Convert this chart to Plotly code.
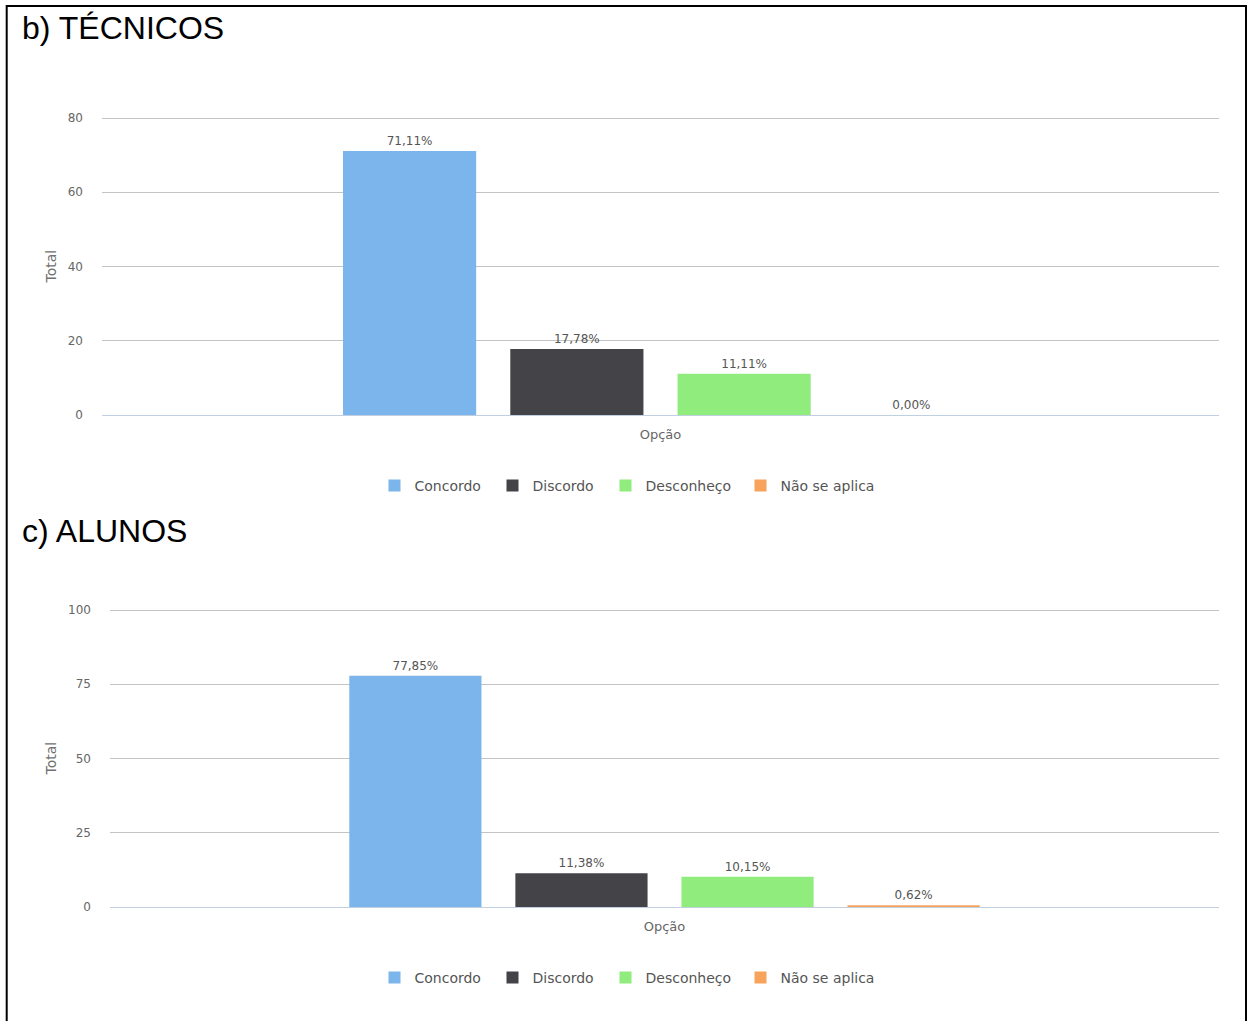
import plotly.graph_objects as go

# Survey answers, percentage of respondents per option
options = ["Concordo", "Discordo", "Desconheço", "Não se aplica"]
colors = ["#7cb5ec", "#434348", "#90ed7d", "#f7a35c"]
category = ["Opção"]

tecnicos_pct = [71.11, 17.78, 11.11, 0.00]
alunos_pct = [77.85, 11.38, 10.15, 0.62]

panel_titles = ["b) TÉCNICOS", "c) ALUNOS"]
tecnicos_ticks = [0, 20, 40, 60, 80]
alunos_ticks = [0, 25, 50, 75, 100]

W, H = 1247, 1021


def px_x(px):
    return px / W


def px_y(py):
    return 1 - py / H


def fmt(v):
    return f"{v:.2f}".replace(".", ",") + "%"


# Layout geometry of each panel (pixels)
panels = [
    dict(values=tecnicos_pct, xa="x", ya="y", left=102, zero=415, top=118,
         ymax=80, ticks=tecnicos_ticks, legend_y=486),
    dict(values=alunos_pct, xa="x2", ya="y2", left=110, zero=907, top=610,
         ymax=100, ticks=alunos_ticks, legend_y=978),
]
plot_right = 1219
# left edge of each legend entry's label text
legend_text_x = [414, 532, 645, 780]

fig = go.Figure()
legend_layouts = {}
legend_idx = 0
for p in panels:
    for name, color, v, tx in zip(options, colors, p["values"], legend_text_x):
        legend_idx += 1
        lid = "legend" if legend_idx == 1 else f"legend{legend_idx}"
        fig.add_trace(go.Bar(
            x=category, y=[v], name=name,
            marker=dict(color=color, line=dict(width=0)),
            text=[fmt(v)], textposition="outside",
            textfont=dict(family="DejaVu Sans", size=12, color="#555555"),
            cliponaxis=False, constraintext="none",
            xaxis=p["xa"], yaxis=p["ya"], legend=lid,
            hoverinfo="skip",
        ))
        legend_layouts[lid] = dict(
            x=px_x(tx - 39.5), y=px_y(p["legend_y"]),
            xanchor="left", yanchor="middle",
            font=dict(family="DejaVu Sans", size=14, color="#555555"),
            bgcolor="rgba(0,0,0,0)", borderwidth=0,
            itemclick=False, itemdoubleclick=False,
        )

axis_font = dict(family="DejaVu Sans", size=12, color="#666666")

common_y = dict(
    showline=False, zeroline=False, showgrid=True,
    gridcolor="#c4c4c4", gridwidth=1,
    tickfont=axis_font, ticks="", ticklabelstandoff=18,
    fixedrange=True,
)
common_x = dict(
    type="category", showline=True, linecolor="#c0d0e0", linewidth=1,
    showgrid=False, zeroline=False, ticks="",
    tickfont=dict(family="DejaVu Sans", size=13, color="#666666"),
    ticklabelstandoff=7, fixedrange=True,
)

axes = {}
for i, p in enumerate(panels):
    suffix = "" if i == 0 else str(i + 1)
    # a little headroom so the top gridline is drawn inside the plot area
    ymax = p["ymax"] * 1.004
    top_px = p["zero"] - (p["zero"] - p["top"]) * ymax / p["ymax"]
    axes["xaxis" + suffix] = dict(domain=[px_x(p["left"]), px_x(plot_right)],
                                  anchor="y" + suffix, **common_x)
    axes["yaxis" + suffix] = dict(domain=[px_y(p["zero"]), px_y(top_px)],
                                  anchor="x" + suffix, range=[0, ymax],
                                  tickvals=p["ticks"], **common_y)

fig.update_layout(
    width=W, height=H,
    margin=dict(l=0, r=0, t=0, b=0, autoexpand=False),
    paper_bgcolor="white", plot_bgcolor="white",
    barmode="group", bargap=0.401, bargroupgap=0.204,
    showlegend=True,
    **axes, **legend_layouts,
)

# Panel headings and y-axis titles
for title, ty in zip(panel_titles, [28, 531]):
    fig.add_annotation(
        text=title, xref="paper", yref="paper",
        x=px_x(20), y=px_y(ty), xanchor="left", yanchor="middle",
        showarrow=False,
        font=dict(family="Liberation Sans", size=32, color="#000000"),
    )

for p in panels:
    fig.add_annotation(
        text="Total", xref="paper", yref="paper",
        x=px_x(50), y=px_y((p["zero"] + p["top"]) / 2),
        xanchor="center", yanchor="middle",
        textangle=-90, showarrow=False,
        font=dict(family="DejaVu Sans", size=14, color="#707070"),
    )

# Black frame around the figure (open at the bottom)
fig.add_shape(
    type="path", xref="paper", yref="paper",
    path=f"M {px_x(6.7)},{px_y(1030)} L {px_x(6.7)},{px_y(6)} "
         f"L {px_x(1246)},{px_y(6)} L {px_x(1246)},{px_y(1030)}",
    line=dict(color="#000000", width=2),
)

fig.write_html("out.html", config={"displayModeBar": False})
